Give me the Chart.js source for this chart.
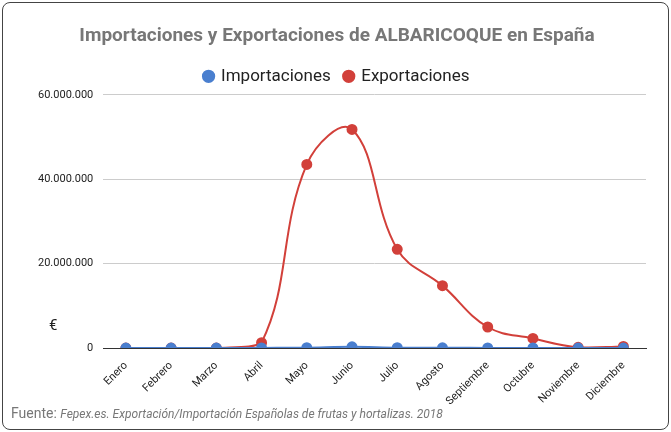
<!DOCTYPE html>
<html>
<head>
<meta charset="utf-8">
<script src="https://cdn.jsdelivr.net/npm/chart.js@4"></script>
<style>
  body { margin: 0; background: #fff; }
  #wrap { position: absolute; left: 2px; top: 2px; width: 665px; height: 426px; border: 1px solid #444; border-radius: 8px; overflow: hidden; }
</style>
</head>
<body>
<div id="wrap"><canvas id="grafico" width="665" height="426"></canvas></div>
<script>
// Datos del gráfico
const meses = ['Enero', 'Febrero', 'Marzo', 'Abril', 'Mayo', 'Junio', 'Julio', 'Agosto', 'Septiembre', 'Octubre', 'Noviembre', 'Diciembre'];
const importaciones = [0, 0, 0, 50000, 100000, 300000, 100000, 80000, 50000, 30000, 0, 0];
const exportaciones = [0, 0, 0, 1300000, 43500000, 51800000, 23400000, 14800000, 5000000, 2300000, 200000, 400000];
const ticksY = [0, 20000000, 40000000, 60000000];

const fmt = v => String(v).replace(/\B(?=(\d{3})+(?!\d))/g, '.');

// Texto del símbolo € y la fuente
const extras = {
    id: 'extras',
    afterDraw(chart) {
        const ctx = chart.ctx;
        ctx.save();
        ctx.fillStyle = '#222';
        ctx.font = '15px Roboto, Arial';
        ctx.textAlign = 'left';
        ctx.textBaseline = 'middle';
        ctx.fillText('€', 46, 323);
        ctx.fillStyle = '#777';
        ctx.font = '14px Roboto, Arial';
        ctx.textBaseline = 'alphabetic';
        ctx.fillText('Fuente:', 8, 415);
        const w = ctx.measureText('Fuente: ').width;
        ctx.font = 'italic 12px Roboto, Arial';
        ctx.fillText('Fepex.es. Exportación/Importación Españolas de frutas y hortalizas. 2018', 8 + w, 415);
        ctx.restore();
    }
};

new Chart(document.getElementById('grafico'), {
    type: 'line',
    data: {
        labels: meses,
        datasets: [
            {
                label: 'Importaciones',
                data: importaciones,
                borderColor: '#4a7fcf',
                backgroundColor: '#4a7fcf',
                borderWidth: 2,
                pointRadius: 4.5,
                tension: 0.4,
                cubicInterpolationMode: 'monotone'
            },
            {
                label: 'Exportaciones',
                data: exportaciones,
                borderColor: '#d2403a',
                backgroundColor: '#d2403a',
                borderWidth: 2,
                pointRadius: 4.5,
                tension: 0.4
            }
        ]
    },
    options: {
        responsive: false,
        animation: false,
        layout: { padding: { left: 25, right: 22, bottom: 18, top: 0 } },
        plugins: {
            title: {
                display: true,
                text: 'Importaciones y Exportaciones de ALBARICOQUE en España',
                color: '#777',
                font: { family: 'Roboto, Arial', size: 19, weight: 'bold' },
                padding: { top: 22, bottom: 6 }
            },
            legend: {
                labels: {
                    usePointStyle: true,
                    pointStyle: 'circle',
                    boxWidth: 8,
                    boxHeight: 8,
                    color: '#222',
                    font: { family: 'Roboto, Arial', size: 17 },
                    padding: 14
                }
            }
        },
        scales: {
            x: {
                offset: true,
                grid: { display: false, offset: false },
                border: { color: '#333' },
                ticks: { color: '#222', font: { family: 'Roboto, Arial', size: 11 }, maxRotation: 45, minRotation: 45 }
            },
            y: {
                min: 0,
                max: 60000000,
                afterBuildTicks: axis => { axis.ticks = ticksY.map(v => ({ value: v })); },
                grid: { color: '#ccc', drawTicks: false },
                border: { display: false },
                ticks: { color: '#222', font: { family: 'Roboto, Arial', size: 11 }, padding: 10, callback: v => fmt(v) }
            }
        }
    },
    plugins: [extras]
});
</script>
</body>
</html>
